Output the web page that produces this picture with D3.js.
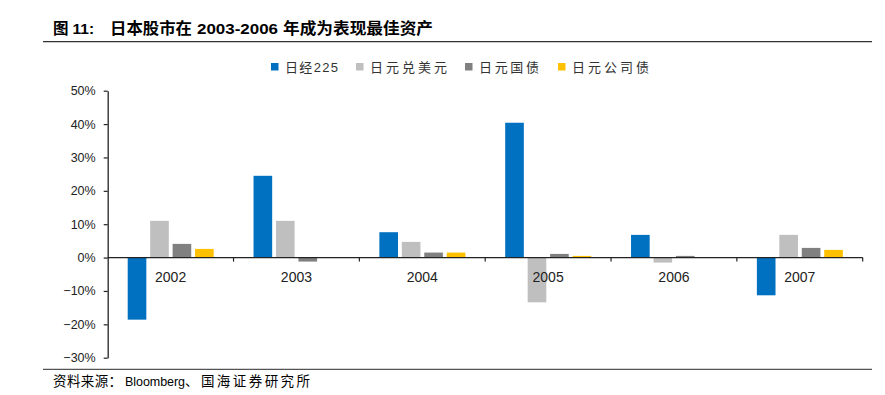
<!DOCTYPE html>
<html><head><meta charset="utf-8">
<script src="https://cdn.jsdelivr.net/npm/d3@7"></script>
<style>
body{margin:0;background:#fff;}
svg{display:block;}
</style></head>
<body>
<svg id="chart" width="885" height="395"></svg>
<script>
const categories = ["2002","2003","2004","2005","2006","2007"];
const seriesNames = ["日经225","日元兑美元","日元国债","日元公司债"];
const seriesColors = ["#0070C0","#BFBFBF","#808080","#FFC000"];
const nikkei  = [-18.6, 24.5, 7.6, 40.4, 6.8, -11.3];
const jpyusd  = [11.0, 11.0, 4.7, -13.4, -1.5, 6.8];
const jgb     = [4.1, -1.2, 1.5, 1.1, 0.5, 2.9];
const corp    = [2.6, 0.0, 1.5, 0.5, 0.1, 2.3];
const yTicks  = [-30,-20,-10,0,10,20,30,40,50];
const seriesValues = [nikkei, jpyusd, jgb, corp];

const svg = d3.select("#chart");
const fontEN = "'Liberation Sans', Arial, sans-serif";
const fontMix = "'Liberation Sans', 'Noto Sans CJK SC', sans-serif";

// Title (pieces with measured widths)
const titleParts = [
  {t:"图", x:53, w:null},
  {t:"11:", x:72.5, w:null},
  {t:"日本股市在", x:110, w:82},
  {t:"2003-2006", x:197, w:81},
  {t:"年成为表现最佳资产", x:283, w:150}
];
titleParts.forEach(p => {
  const t = svg.append("text").attr("x",p.x).attr("y",34)
    .attr("font-family", fontMix).attr("font-weight","bold").attr("font-size",15.5)
    .attr("fill","#000").text(p.t);
  if (p.w) t.attr("textLength",p.w).attr("lengthAdjust","spacingAndGlyphs");
});
svg.append("line").attr("x1",43).attr("x2",872).attr("y1",41.7).attr("y2",41.7)
  .attr("stroke","#333").attr("stroke-width",1.3);

// Source
svg.append("line").attr("x1",43).attr("x2",872).attr("y1",369.3).attr("y2",369.3)
  .attr("stroke","#555").attr("stroke-width",1.2);
const srcParts = [
  {t:"资料来源：", x:53, w:69, fs:13.5},
  {t:"Bloomberg", x:125, w:60, fs:12.5},
  {t:"、国海证券研究所", x:185, w:125, fs:13.5}
];
srcParts.forEach(p => {
  svg.append("text").attr("x",p.x).attr("y",386)
    .attr("font-family", fontMix).attr("font-size",p.fs).attr("fill","#000")
    .attr("textLength",p.w).attr("lengthAdjust","spacing").text(p.t);
});

// Scales
const x0 = d3.scaleBand().domain(categories).range([107.7, 862.7]).padding(0);
const x1 = d3.scaleBand().domain(seriesNames).range([20, 106]).paddingInner(0.17).paddingOuter(0);
const y = d3.scaleLinear().domain([-30, 50]).range([357.7, 90.7]);

// Bars
const g = svg.append("g");
seriesNames.forEach((s, si) => {
  g.selectAll(".bar"+si).data(categories).enter().append("rect")
    .attr("x", c => x0(c) + x1(s))
    .attr("width", x1.bandwidth())
    .attr("y", (c,i) => y(Math.max(0, seriesValues[si][i])))
    .attr("height", (c,i) => Math.abs(y(seriesValues[si][i]) - y(0)))
    .attr("fill", seriesColors[si]);
});

// Y axis
const yAxis = d3.axisLeft(y).tickValues(yTicks).tickSize(4).tickSizeOuter(0)
  .tickFormat(d => (d < 0 ? "\u2212" + Math.abs(d) : d) + "%");
const ya = svg.append("g").attr("transform","translate(107.7,0)").call(yAxis);
ya.select(".domain").attr("stroke","#222").attr("stroke-width",1.3);
ya.selectAll(".tick line").attr("stroke","#222").attr("stroke-width",1.2);
ya.selectAll(".tick text").attr("font-family",fontEN).attr("font-size",12.5)
  .attr("fill","#222").attr("x",-12);

// X axis at zero
const xa = svg.append("g").attr("transform",`translate(0,${y(0)})`);
xa.append("line").attr("x1",107.7).attr("x2",862.7).attr("y1",0).attr("y2",0)
  .attr("stroke","#222").attr("stroke-width",1.3);
const bounds = categories.map(c => x0(c) + x0.bandwidth());
xa.selectAll(".xt").data(bounds).enter().append("line")
  .attr("x1",d=>d).attr("x2",d=>d).attr("y1",0).attr("y2",4)
  .attr("stroke","#222").attr("stroke-width",1.2);
xa.selectAll(".xl").data(categories).enter().append("text")
  .attr("x", c => x0(c) + x0.bandwidth()/2).attr("y", 24)
  .attr("text-anchor","middle").attr("font-family",fontEN).attr("font-size",14)
  .attr("fill","#222").text(c => c);

// Legend
const legendX = [271, 356, 465, 558];
const legendW = [53, 77, 60, 77];
const lg = svg.append("g");
seriesNames.forEach((s, i) => {
  lg.append("rect").attr("x", legendX[i]).attr("y", 63).attr("width",7.5).attr("height",7.5)
    .attr("fill", seriesColors[i]);
  lg.append("text").attr("x", legendX[i] + 14).attr("y", 72)
    .attr("font-family", fontMix)
    .attr("font-size", 13).attr("fill","#333")
    .attr("textLength", legendW[i]).attr("lengthAdjust","spacing").text(s);
});
</script>
</body></html>
